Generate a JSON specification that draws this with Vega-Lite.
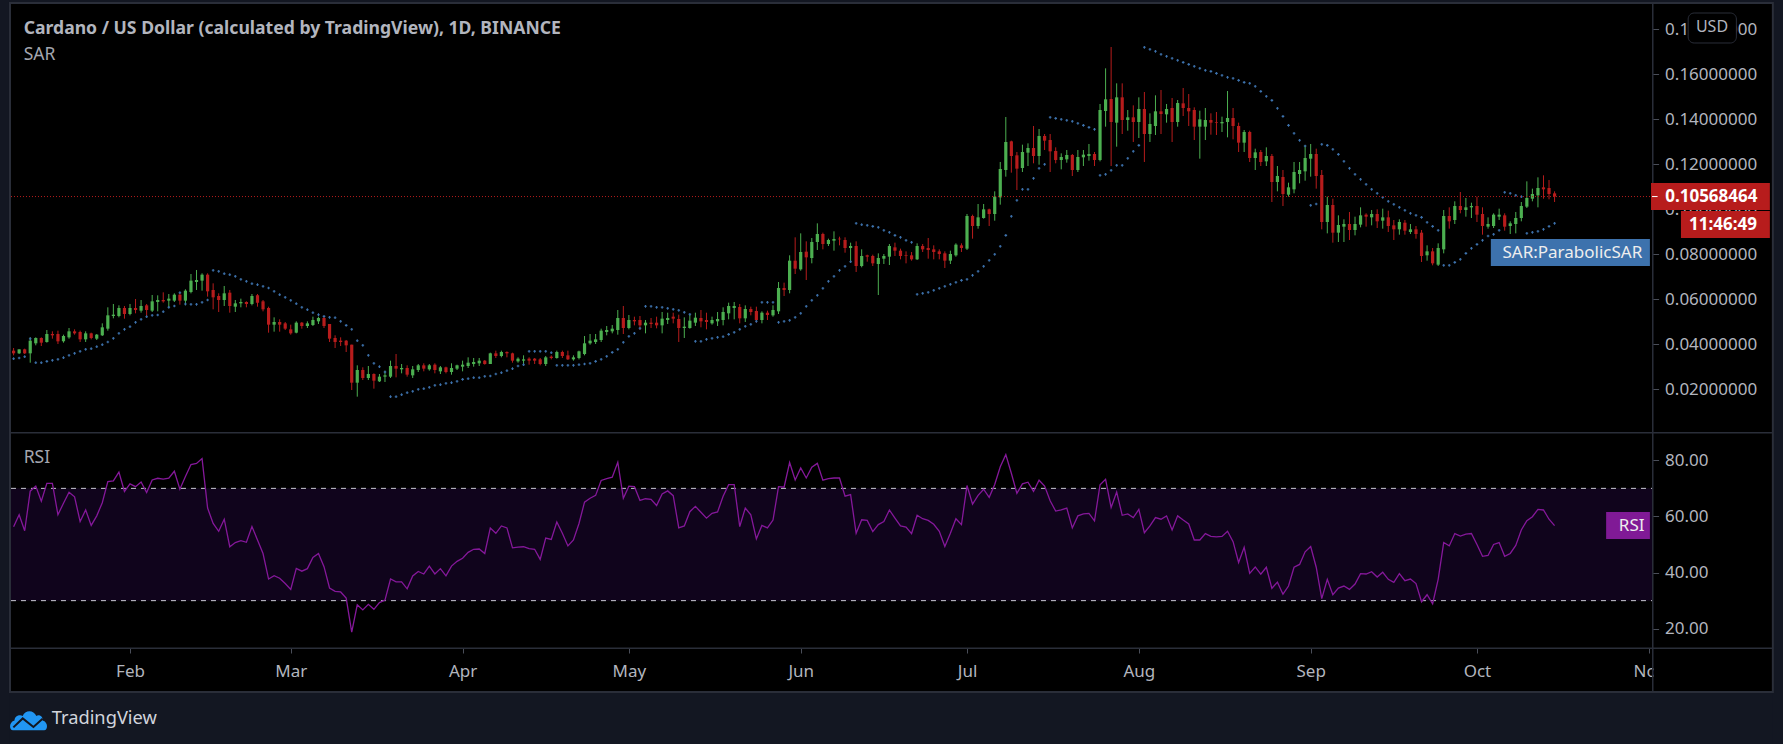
{
"$schema":"https://vega.github.io/schema/vega-lite/v6.json",
"width":1783,"height":744,"padding":0,"autosize":{"type":"none"},
"background":"#000000",
"config":{"view":{"stroke":null},"axis":{"grid":false,"domain":false,"title":null,"labelFont":"Noto Sans","labelFontSize":17,"labelColor":"#b2b5be","tickColor":"#4a4e59","labelOverlap":false,"labelFlush":false,"labelBound":false},"text":{"font":"Noto Sans"}},
"datasets":{
"rows":[
{"d":"2020-01-11","o":0.03719,"h":0.03837,"l":0.03511,"c":0.036,"s":0.03363,"r":56.3},
{"d":"2020-01-12","o":0.036,"h":0.03778,"l":0.0357,"c":0.03778,"s":0.03393,"r":60.6},
{"d":"2020-01-13","o":0.03778,"h":0.03808,"l":0.0357,"c":0.036,"s":0.03452,"r":54.9},
{"d":"2020-01-14","o":0.036,"h":0.04311,"l":0.03185,"c":0.04163,"s":0.04252,"r":69},
{"d":"2020-01-15","o":0.04045,"h":0.04311,"l":0.03956,"c":0.04282,"s":0.03185,"r":70.8},
{"d":"2020-01-16","o":0.04282,"h":0.04311,"l":0.03926,"c":0.04074,"s":0.03185,"r":65.4},
{"d":"2020-01-17","o":0.04104,"h":0.04637,"l":0.04074,"c":0.04459,"s":0.03244,"r":71.8},
{"d":"2020-01-18","o":0.04459,"h":0.04578,"l":0.04252,"c":0.044,"s":0.03289,"r":71.8},
{"d":"2020-01-19","o":0.04459,"h":0.04608,"l":0.04015,"c":0.04133,"s":0.03333,"r":60.6},
{"d":"2020-01-20","o":0.04133,"h":0.0443,"l":0.04074,"c":0.0437,"s":0.03407,"r":64.7},
{"d":"2020-01-21","o":0.04311,"h":0.04726,"l":0.04252,"c":0.04578,"s":0.03511,"r":68.6},
{"d":"2020-01-22","o":0.04578,"h":0.04667,"l":0.0443,"c":0.04489,"s":0.036,"r":67},
{"d":"2020-01-23","o":0.04548,"h":0.04608,"l":0.04104,"c":0.04222,"s":0.03689,"r":58.2},
{"d":"2020-01-24","o":0.04222,"h":0.04578,"l":0.04104,"c":0.04489,"s":0.03778,"r":62.3},
{"d":"2020-01-25","o":0.04489,"h":0.04519,"l":0.04222,"c":0.04282,"s":0.03808,"r":56.8},
{"d":"2020-01-26","o":0.04252,"h":0.04459,"l":0.04193,"c":0.0443,"s":0.03896,"r":60.2},
{"d":"2020-01-27","o":0.044,"h":0.04933,"l":0.0437,"c":0.04756,"s":0.03985,"r":64.9},
{"d":"2020-01-28","o":0.04696,"h":0.05645,"l":0.04608,"c":0.05289,"s":0.04104,"r":72.4},
{"d":"2020-01-29","o":0.05259,"h":0.05793,"l":0.05156,"c":0.05319,"s":0.04267,"r":72.7},
{"d":"2020-01-30","o":0.05259,"h":0.05733,"l":0.052,"c":0.05615,"s":0.04489,"r":75.8},
{"d":"2020-01-31","o":0.05615,"h":0.05704,"l":0.05141,"c":0.05348,"s":0.04667,"r":68.9},
{"d":"2020-02-01","o":0.05348,"h":0.05793,"l":0.05289,"c":0.05615,"s":0.04785,"r":71.6},
{"d":"2020-02-02","o":0.05615,"h":0.06015,"l":0.05378,"c":0.05526,"s":0.04978,"r":70.6},
{"d":"2020-02-03","o":0.05496,"h":0.0597,"l":0.05407,"c":0.05704,"s":0.05111,"r":72.3},
{"d":"2020-02-04","o":0.05733,"h":0.05793,"l":0.05259,"c":0.05526,"s":0.0523,"r":68.5},
{"d":"2020-02-05","o":0.05496,"h":0.06193,"l":0.05437,"c":0.05911,"s":0.05289,"r":73},
{"d":"2020-02-06","o":0.05882,"h":0.06178,"l":0.05467,"c":0.0597,"s":0.05304,"r":73.6},
{"d":"2020-02-07","o":0.0597,"h":0.06311,"l":0.05852,"c":0.05911,"s":0.05452,"r":73.3},
{"d":"2020-02-08","o":0.05941,"h":0.06237,"l":0.05615,"c":0.0603,"s":0.05645,"r":73.6},
{"d":"2020-02-09","o":0.05941,"h":0.06267,"l":0.05882,"c":0.06207,"s":0.05704,"r":76.1},
{"d":"2020-02-10","o":0.06207,"h":0.06296,"l":0.05763,"c":0.05941,"s":0.06296,"r":69.7},
{"d":"2020-02-11","o":0.05941,"h":0.06445,"l":0.05733,"c":0.06385,"s":0.05793,"r":74.2},
{"d":"2020-02-12","o":0.06326,"h":0.07126,"l":0.06267,"c":0.0683,"s":0.05778,"r":78.5},
{"d":"2020-02-13","o":0.0677,"h":0.07304,"l":0.06415,"c":0.06859,"s":0.05778,"r":78.9},
{"d":"2020-02-14","o":0.0683,"h":0.07156,"l":0.06385,"c":0.07096,"s":0.05867,"r":80.6},
{"d":"2020-02-15","o":0.07096,"h":0.07156,"l":0.06119,"c":0.06356,"s":0.0597,"r":63},
{"d":"2020-02-16","o":0.06415,"h":0.06711,"l":0.05556,"c":0.06089,"s":0.07289,"r":57.5},
{"d":"2020-02-17","o":0.06148,"h":0.06267,"l":0.05437,"c":0.0597,"s":0.07245,"r":54.7},
{"d":"2020-02-18","o":0.0597,"h":0.06593,"l":0.05704,"c":0.06267,"s":0.07141,"r":59},
{"d":"2020-02-19","o":0.06296,"h":0.06415,"l":0.05407,"c":0.05704,"s":0.07096,"r":49.2},
{"d":"2020-02-20","o":0.05674,"h":0.0597,"l":0.05437,"c":0.05822,"s":0.07022,"r":50.7},
{"d":"2020-02-21","o":0.05822,"h":0.0603,"l":0.05645,"c":0.05882,"s":0.06889,"r":51.4},
{"d":"2020-02-22","o":0.05882,"h":0.05911,"l":0.05645,"c":0.05793,"s":0.068,"r":50.8},
{"d":"2020-02-23","o":0.05793,"h":0.06237,"l":0.05733,"c":0.06148,"s":0.06696,"r":56.4},
{"d":"2020-02-24","o":0.06178,"h":0.06237,"l":0.05674,"c":0.05852,"s":0.06652,"r":51.6},
{"d":"2020-02-25","o":0.05911,"h":0.0597,"l":0.05467,"c":0.05556,"s":0.06578,"r":46.8},
{"d":"2020-02-26","o":0.05615,"h":0.05674,"l":0.04519,"c":0.04874,"s":0.06504,"r":37.7},
{"d":"2020-02-27","o":0.04874,"h":0.052,"l":0.04563,"c":0.04993,"s":0.06356,"r":38.9},
{"d":"2020-02-28","o":0.04993,"h":0.05111,"l":0.04563,"c":0.04874,"s":0.06207,"r":38},
{"d":"2020-02-29","o":0.04933,"h":0.04993,"l":0.04637,"c":0.04696,"s":0.06089,"r":36.1},
{"d":"2020-03-01","o":0.04667,"h":0.04874,"l":0.0443,"c":0.04489,"s":0.05956,"r":34},
{"d":"2020-03-02","o":0.04519,"h":0.05022,"l":0.04489,"c":0.04963,"s":0.05807,"r":41.5},
{"d":"2020-03-03","o":0.04963,"h":0.04993,"l":0.04696,"c":0.04815,"s":0.05645,"r":40.5},
{"d":"2020-03-04","o":0.04815,"h":0.05022,"l":0.04726,"c":0.04933,"s":0.05541,"r":41.4},
{"d":"2020-03-05","o":0.04859,"h":0.0523,"l":0.04815,"c":0.05081,"s":0.05407,"r":45.4},
{"d":"2020-03-06","o":0.05022,"h":0.0523,"l":0.04904,"c":0.0517,"s":0.05319,"r":46.8},
{"d":"2020-03-07","o":0.0517,"h":0.0523,"l":0.04726,"c":0.04815,"s":0.05244,"r":42.1},
{"d":"2020-03-08","o":0.04904,"h":0.04904,"l":0.04104,"c":0.04252,"s":0.052,"r":34.5},
{"d":"2020-03-09","o":0.04282,"h":0.044,"l":0.03837,"c":0.04104,"s":0.05185,"r":33.3},
{"d":"2020-03-10","o":0.04163,"h":0.04311,"l":0.03926,"c":0.04104,"s":0.05022,"r":33.1},
{"d":"2020-03-11","o":0.04163,"h":0.04193,"l":0.03659,"c":0.03956,"s":0.04844,"r":30.9},
{"d":"2020-03-12","o":0.03985,"h":0.03985,"l":0.0197,"c":0.02296,"s":0.04667,"r":18.8},
{"d":"2020-03-13","o":0.02296,"h":0.03067,"l":0.01674,"c":0.02859,"s":0.04163,"r":28.5},
{"d":"2020-03-14","o":0.02859,"h":0.02978,"l":0.02415,"c":0.02504,"s":0.03956,"r":26.7},
{"d":"2020-03-15","o":0.02504,"h":0.03037,"l":0.02415,"c":0.02681,"s":0.03511,"r":28.7},
{"d":"2020-03-16","o":0.02681,"h":0.02711,"l":0.0203,"c":0.02385,"s":0.03156,"r":26.9},
{"d":"2020-03-17","o":0.02356,"h":0.02681,"l":0.02326,"c":0.02563,"s":0.03007,"r":29.3},
{"d":"2020-03-18","o":0.02563,"h":0.0283,"l":0.02326,"c":0.02622,"s":0.0277,"r":30.2},
{"d":"2020-03-19","o":0.02563,"h":0.03274,"l":0.02504,"c":0.03037,"s":0.01674,"r":37.7},
{"d":"2020-03-20","o":0.03037,"h":0.0357,"l":0.02533,"c":0.02919,"s":0.01674,"r":36.7},
{"d":"2020-03-21","o":0.02889,"h":0.03126,"l":0.02711,"c":0.02948,"s":0.01763,"r":36.7},
{"d":"2020-03-22","o":0.02948,"h":0.03067,"l":0.02563,"c":0.02652,"s":0.01852,"r":34.2},
{"d":"2020-03-23","o":0.02622,"h":0.03037,"l":0.02504,"c":0.02889,"s":0.01911,"r":38.8},
{"d":"2020-03-24","o":0.02859,"h":0.03126,"l":0.0277,"c":0.03067,"s":0.02,"r":40.4},
{"d":"2020-03-25","o":0.03067,"h":0.03156,"l":0.028,"c":0.02919,"s":0.0203,"r":39.5},
{"d":"2020-03-26","o":0.02889,"h":0.03126,"l":0.0283,"c":0.03067,"s":0.02089,"r":42.3},
{"d":"2020-03-27","o":0.03096,"h":0.03156,"l":0.02711,"c":0.02859,"s":0.02178,"r":39.5},
{"d":"2020-03-28","o":0.028,"h":0.03037,"l":0.02681,"c":0.02978,"s":0.02207,"r":41.4},
{"d":"2020-03-29","o":0.02978,"h":0.03007,"l":0.02711,"c":0.0277,"s":0.02267,"r":38.8},
{"d":"2020-03-30","o":0.0277,"h":0.03156,"l":0.02652,"c":0.02948,"s":0.02296,"r":42.3},
{"d":"2020-03-31","o":0.02919,"h":0.03096,"l":0.02859,"c":0.03067,"s":0.02356,"r":44},
{"d":"2020-04-01","o":0.03007,"h":0.03274,"l":0.028,"c":0.03096,"s":0.02444,"r":45.1},
{"d":"2020-04-02","o":0.03037,"h":0.03422,"l":0.02948,"c":0.03185,"s":0.02474,"r":47.2},
{"d":"2020-04-03","o":0.03126,"h":0.03393,"l":0.03007,"c":0.03215,"s":0.02519,"r":48.3},
{"d":"2020-04-04","o":0.03156,"h":0.03393,"l":0.03037,"c":0.03274,"s":0.02519,"r":48.4},
{"d":"2020-04-05","o":0.03274,"h":0.03304,"l":0.03096,"c":0.03126,"s":0.02578,"r":46.8},
{"d":"2020-04-06","o":0.03126,"h":0.0363,"l":0.03126,"c":0.036,"s":0.02593,"r":55.9},
{"d":"2020-04-07","o":0.036,"h":0.03719,"l":0.03393,"c":0.03482,"s":0.02681,"r":54},
{"d":"2020-04-08","o":0.03482,"h":0.03719,"l":0.03422,"c":0.03659,"s":0.02741,"r":56.6},
{"d":"2020-04-09","o":0.03659,"h":0.03689,"l":0.03422,"c":0.036,"s":0.0283,"r":55.9},
{"d":"2020-04-10","o":0.036,"h":0.0363,"l":0.03185,"c":0.03274,"s":0.02919,"r":48.8},
{"d":"2020-04-11","o":0.03244,"h":0.03422,"l":0.03185,"c":0.03363,"s":0.03037,"r":49.1},
{"d":"2020-04-12","o":0.03274,"h":0.03511,"l":0.03096,"c":0.03333,"s":0.03096,"r":49.2},
{"d":"2020-04-13","o":0.03363,"h":0.03422,"l":0.03096,"c":0.03274,"s":0.03689,"r":48.5},
{"d":"2020-04-14","o":0.03363,"h":0.03393,"l":0.03126,"c":0.03274,"s":0.03689,"r":48.3},
{"d":"2020-04-15","o":0.03333,"h":0.03393,"l":0.03067,"c":0.03126,"s":0.03689,"r":44.7},
{"d":"2020-04-16","o":0.03126,"h":0.03482,"l":0.03037,"c":0.03422,"s":0.03689,"r":52.3},
{"d":"2020-04-17","o":0.03452,"h":0.03511,"l":0.03333,"c":0.03393,"s":0.0363,"r":51.8},
{"d":"2020-04-18","o":0.03393,"h":0.03719,"l":0.03363,"c":0.03659,"s":0.03067,"r":58},
{"d":"2020-04-19","o":0.03659,"h":0.03719,"l":0.03393,"c":0.03482,"s":0.03067,"r":54},
{"d":"2020-04-20","o":0.03511,"h":0.03719,"l":0.03304,"c":0.03333,"s":0.03067,"r":49.5},
{"d":"2020-04-21","o":0.03333,"h":0.03511,"l":0.03274,"c":0.03422,"s":0.03067,"r":51.6},
{"d":"2020-04-22","o":0.03393,"h":0.03719,"l":0.03333,"c":0.03689,"s":0.03096,"r":57.5},
{"d":"2020-04-23","o":0.0357,"h":0.0437,"l":0.03511,"c":0.04045,"s":0.03126,"r":65.1},
{"d":"2020-04-24","o":0.04045,"h":0.04459,"l":0.03985,"c":0.04163,"s":0.03156,"r":66.5},
{"d":"2020-04-25","o":0.04104,"h":0.04459,"l":0.04015,"c":0.04222,"s":0.03244,"r":67.5},
{"d":"2020-04-26","o":0.04193,"h":0.04696,"l":0.04104,"c":0.04607,"s":0.03333,"r":72.8},
{"d":"2020-04-27","o":0.04548,"h":0.04815,"l":0.044,"c":0.04637,"s":0.03467,"r":73.5},
{"d":"2020-04-28","o":0.04578,"h":0.04859,"l":0.04489,"c":0.04696,"s":0.03644,"r":74},
{"d":"2020-04-29","o":0.04637,"h":0.05526,"l":0.0443,"c":0.0517,"s":0.03778,"r":79.3},
{"d":"2020-04-30","o":0.0517,"h":0.05704,"l":0.04459,"c":0.04726,"s":0.04089,"r":66.5},
{"d":"2020-05-01","o":0.04726,"h":0.05304,"l":0.04667,"c":0.05081,"s":0.04356,"r":70.8},
{"d":"2020-05-02","o":0.05081,"h":0.0523,"l":0.04844,"c":0.05022,"s":0.04489,"r":70.6},
{"d":"2020-05-03","o":0.05081,"h":0.05259,"l":0.04637,"c":0.04844,"s":0.04711,"r":65.7},
{"d":"2020-05-04","o":0.04844,"h":0.05081,"l":0.04489,"c":0.04963,"s":0.05689,"r":66.3},
{"d":"2020-05-05","o":0.04963,"h":0.0517,"l":0.04726,"c":0.04904,"s":0.05689,"r":66.1},
{"d":"2020-05-06","o":0.04963,"h":0.0523,"l":0.04711,"c":0.04844,"s":0.05645,"r":63.9},
{"d":"2020-05-07","o":0.04844,"h":0.05437,"l":0.04489,"c":0.05141,"s":0.05645,"r":68},
{"d":"2020-05-08","o":0.05081,"h":0.05407,"l":0.04904,"c":0.0517,"s":0.056,"r":69.1},
{"d":"2020-05-09","o":0.0523,"h":0.05407,"l":0.04933,"c":0.05141,"s":0.05556,"r":67.4},
{"d":"2020-05-10","o":0.05126,"h":0.05319,"l":0.04104,"c":0.04726,"s":0.05511,"r":55.9},
{"d":"2020-05-11","o":0.04726,"h":0.052,"l":0.04282,"c":0.04785,"s":0.05422,"r":56.6},
{"d":"2020-05-12","o":0.04726,"h":0.05304,"l":0.04696,"c":0.05052,"s":0.05333,"r":61.7},
{"d":"2020-05-13","o":0.04963,"h":0.05407,"l":0.04815,"c":0.05185,"s":0.04133,"r":63.6},
{"d":"2020-05-14","o":0.0517,"h":0.05526,"l":0.04756,"c":0.05022,"s":0.04133,"r":61.5},
{"d":"2020-05-15","o":0.05081,"h":0.05407,"l":0.04667,"c":0.04993,"s":0.04222,"r":59.4},
{"d":"2020-05-16","o":0.04933,"h":0.0523,"l":0.04874,"c":0.05081,"s":0.04267,"r":61.1},
{"d":"2020-05-17","o":0.05022,"h":0.05437,"l":0.04815,"c":0.05126,"s":0.04311,"r":61.6},
{"d":"2020-05-18","o":0.05081,"h":0.05645,"l":0.04844,"c":0.05437,"s":0.04341,"r":67.2},
{"d":"2020-05-19","o":0.05378,"h":0.05852,"l":0.05111,"c":0.05704,"s":0.04444,"r":71.3},
{"d":"2020-05-20","o":0.05615,"h":0.05882,"l":0.05111,"c":0.05704,"s":0.04533,"r":71.3},
{"d":"2020-05-21","o":0.05659,"h":0.05793,"l":0.04933,"c":0.05156,"s":0.04667,"r":56.4},
{"d":"2020-05-22","o":0.05156,"h":0.05733,"l":0.04993,"c":0.0557,"s":0.048,"r":63},
{"d":"2020-05-23","o":0.0557,"h":0.05674,"l":0.05289,"c":0.05437,"s":0.04889,"r":60.6},
{"d":"2020-05-24","o":0.05481,"h":0.05674,"l":0.04963,"c":0.05081,"s":0.05022,"r":52},
{"d":"2020-05-25","o":0.05081,"h":0.05467,"l":0.04933,"c":0.05407,"s":0.05867,"r":56.8},
{"d":"2020-05-26","o":0.05407,"h":0.05496,"l":0.05081,"c":0.05304,"s":0.05867,"r":55.9},
{"d":"2020-05-27","o":0.05289,"h":0.05733,"l":0.0523,"c":0.05526,"s":0.05867,"r":58.7},
{"d":"2020-05-28","o":0.05467,"h":0.0677,"l":0.05348,"c":0.06504,"s":0.04978,"r":70.6},
{"d":"2020-05-29","o":0.06504,"h":0.06741,"l":0.06148,"c":0.06415,"s":0.05022,"r":70.4},
{"d":"2020-05-30","o":0.06415,"h":0.07956,"l":0.06267,"c":0.07719,"s":0.05067,"r":79.2},
{"d":"2020-05-31","o":0.07719,"h":0.08756,"l":0.07126,"c":0.07363,"s":0.052,"r":73},
{"d":"2020-06-01","o":0.07333,"h":0.08933,"l":0.07274,"c":0.08104,"s":0.05378,"r":77.3},
{"d":"2020-06-02","o":0.08119,"h":0.08578,"l":0.06859,"c":0.07867,"s":0.05689,"r":73.7},
{"d":"2020-06-03","o":0.07837,"h":0.08726,"l":0.076,"c":0.08548,"s":0.05956,"r":77.5},
{"d":"2020-06-04","o":0.08548,"h":0.09378,"l":0.08193,"c":0.08904,"s":0.06178,"r":78.9},
{"d":"2020-06-05","o":0.08904,"h":0.08963,"l":0.08222,"c":0.08459,"s":0.06489,"r":72.9},
{"d":"2020-06-06","o":0.08459,"h":0.08696,"l":0.0837,"c":0.08637,"s":0.068,"r":73.5},
{"d":"2020-06-07","o":0.08607,"h":0.09022,"l":0.08163,"c":0.08681,"s":0.07022,"r":73.7},
{"d":"2020-06-08","o":0.08696,"h":0.08785,"l":0.084,"c":0.08667,"s":0.07289,"r":73.7},
{"d":"2020-06-09","o":0.08637,"h":0.08756,"l":0.08074,"c":0.08281,"s":0.07467,"r":67.2},
{"d":"2020-06-10","o":0.08281,"h":0.08519,"l":0.07689,"c":0.0837,"s":0.07674,"r":67.8},
{"d":"2020-06-11","o":0.0837,"h":0.08578,"l":0.07215,"c":0.07481,"s":0.09378,"r":54},
{"d":"2020-06-12","o":0.07481,"h":0.08222,"l":0.07422,"c":0.07926,"s":0.09319,"r":58.8},
{"d":"2020-06-13","o":0.07956,"h":0.07985,"l":0.07674,"c":0.07896,"s":0.09289,"r":58.6},
{"d":"2020-06-14","o":0.07926,"h":0.07985,"l":0.07481,"c":0.076,"s":0.09244,"r":54.6},
{"d":"2020-06-15","o":0.0757,"h":0.08044,"l":0.06193,"c":0.07837,"s":0.092,"r":57.1},
{"d":"2020-06-16","o":0.07807,"h":0.08015,"l":0.0757,"c":0.07926,"s":0.09067,"r":58.2},
{"d":"2020-06-17","o":0.07896,"h":0.08459,"l":0.07526,"c":0.0837,"s":0.08978,"r":62.3},
{"d":"2020-06-18","o":0.08311,"h":0.08519,"l":0.07926,"c":0.08163,"s":0.08844,"r":59.4},
{"d":"2020-06-19","o":0.08163,"h":0.08252,"l":0.07778,"c":0.07926,"s":0.08756,"r":56.6},
{"d":"2020-06-20","o":0.07956,"h":0.08133,"l":0.076,"c":0.07926,"s":0.08622,"r":56.2},
{"d":"2020-06-21","o":0.07956,"h":0.08104,"l":0.07718,"c":0.07778,"s":0.08533,"r":53.9},
{"d":"2020-06-22","o":0.07778,"h":0.08489,"l":0.07748,"c":0.0837,"s":0.06222,"r":60.4},
{"d":"2020-06-23","o":0.0837,"h":0.08459,"l":0.08104,"c":0.08222,"s":0.06267,"r":59.2},
{"d":"2020-06-24","o":0.08281,"h":0.08726,"l":0.07807,"c":0.08193,"s":0.06311,"r":58.6},
{"d":"2020-06-25","o":0.08222,"h":0.084,"l":0.07778,"c":0.08104,"s":0.064,"r":57.2},
{"d":"2020-06-26","o":0.08133,"h":0.08222,"l":0.07778,"c":0.08015,"s":0.06489,"r":54.7},
{"d":"2020-06-27","o":0.08044,"h":0.08133,"l":0.07393,"c":0.07719,"s":0.06578,"r":49.3},
{"d":"2020-06-28","o":0.07719,"h":0.08163,"l":0.0757,"c":0.08015,"s":0.06667,"r":54},
{"d":"2020-06-29","o":0.07955,"h":0.08489,"l":0.07896,"c":0.0843,"s":0.06756,"r":59.2},
{"d":"2020-06-30","o":0.084,"h":0.08489,"l":0.08104,"c":0.08281,"s":0.06844,"r":57.1},
{"d":"2020-07-01","o":0.08252,"h":0.09793,"l":0.08193,"c":0.09704,"s":0.06889,"r":71},
{"d":"2020-07-02","o":0.09704,"h":0.09763,"l":0.08696,"c":0.09259,"s":0.07067,"r":64.4},
{"d":"2020-07-03","o":0.09259,"h":0.10237,"l":0.09141,"c":0.09644,"s":0.07245,"r":67.5},
{"d":"2020-07-04","o":0.09615,"h":0.10237,"l":0.09585,"c":0.1,"s":0.07467,"r":69.7},
{"d":"2020-07-05","o":0.1,"h":0.1003,"l":0.09259,"c":0.09793,"s":0.07733,"r":66.8},
{"d":"2020-07-06","o":0.09793,"h":0.108,"l":0.09496,"c":0.10563,"s":0.08,"r":71.4},
{"d":"2020-07-07","o":0.10533,"h":0.12104,"l":0.10208,"c":0.11793,"s":0.08356,"r":77.7},
{"d":"2020-07-08","o":0.11748,"h":0.14104,"l":0.11452,"c":0.12993,"s":0.08844,"r":82},
{"d":"2020-07-09","o":0.13022,"h":0.13052,"l":0.1163,"c":0.1237,"s":0.09689,"r":75.4},
{"d":"2020-07-10","o":0.124,"h":0.12548,"l":0.10859,"c":0.11808,"s":0.104,"r":68.2},
{"d":"2020-07-11","o":0.11837,"h":0.12874,"l":0.11659,"c":0.12548,"s":0.10889,"r":71.6},
{"d":"2020-07-12","o":0.12519,"h":0.12933,"l":0.11926,"c":0.12726,"s":0.10889,"r":72.2},
{"d":"2020-07-13","o":0.12726,"h":0.13704,"l":0.12045,"c":0.1237,"s":0.11378,"r":68.9},
{"d":"2020-07-14","o":0.1237,"h":0.1357,"l":0.11985,"c":0.13259,"s":0.11822,"r":72.9},
{"d":"2020-07-15","o":0.13259,"h":0.13348,"l":0.12637,"c":0.13052,"s":0.12,"r":70.8},
{"d":"2020-07-16","o":0.13081,"h":0.13348,"l":0.11659,"c":0.12578,"s":0.14089,"r":65.6},
{"d":"2020-07-17","o":0.12593,"h":0.12756,"l":0.12045,"c":0.12193,"s":0.14044,"r":61.9},
{"d":"2020-07-18","o":0.12193,"h":0.12489,"l":0.11778,"c":0.12326,"s":0.14,"r":62.3},
{"d":"2020-07-19","o":0.12222,"h":0.12637,"l":0.12074,"c":0.12415,"s":0.13956,"r":63},
{"d":"2020-07-20","o":0.12415,"h":0.12459,"l":0.11482,"c":0.11748,"s":0.13911,"r":55.9},
{"d":"2020-07-21","o":0.11748,"h":0.12637,"l":0.11659,"c":0.12326,"s":0.13822,"r":60.2},
{"d":"2020-07-22","o":0.12311,"h":0.12637,"l":0.11926,"c":0.1243,"s":0.13733,"r":60.9},
{"d":"2020-07-23","o":0.1237,"h":0.12904,"l":0.12163,"c":0.12459,"s":0.13644,"r":61.1},
{"d":"2020-07-24","o":0.12459,"h":0.12548,"l":0.11926,"c":0.12193,"s":0.13556,"r":58.4},
{"d":"2020-07-25","o":0.12193,"h":0.14682,"l":0.12133,"c":0.14415,"s":0.11511,"r":71.3},
{"d":"2020-07-26","o":0.1437,"h":0.16267,"l":0.13674,"c":0.14889,"s":0.11556,"r":73.2},
{"d":"2020-07-27","o":0.14904,"h":0.17215,"l":0.11926,"c":0.13882,"s":0.11733,"r":63.2},
{"d":"2020-07-28","o":0.13852,"h":0.156,"l":0.12785,"c":0.14978,"s":0.11956,"r":68.7},
{"d":"2020-07-29","o":0.14978,"h":0.156,"l":0.13348,"c":0.1397,"s":0.11956,"r":60.4},
{"d":"2020-07-30","o":0.1397,"h":0.14415,"l":0.13496,"c":0.14089,"s":0.12267,"r":60.9},
{"d":"2020-07-31","o":0.14089,"h":0.14622,"l":0.12993,"c":0.13882,"s":0.12578,"r":59.6},
{"d":"2020-08-01","o":0.13882,"h":0.14978,"l":0.1317,"c":0.14459,"s":0.12844,"r":62.5},
{"d":"2020-08-02","o":0.14459,"h":0.15215,"l":0.12104,"c":0.13348,"s":0.172,"r":54.2},
{"d":"2020-08-03","o":0.13348,"h":0.14267,"l":0.12993,"c":0.13793,"s":0.17111,"r":56.6},
{"d":"2020-08-04","o":0.13704,"h":0.15067,"l":0.13304,"c":0.14356,"s":0.17022,"r":59.6},
{"d":"2020-08-05","o":0.14356,"h":0.15304,"l":0.13348,"c":0.14237,"s":0.16889,"r":59},
{"d":"2020-08-06","o":0.14222,"h":0.14682,"l":0.13852,"c":0.14459,"s":0.168,"r":60.2},
{"d":"2020-08-07","o":0.14504,"h":0.14948,"l":0.12993,"c":0.13882,"s":0.16711,"r":55.2},
{"d":"2020-08-08","o":0.13882,"h":0.14859,"l":0.13674,"c":0.14726,"s":0.16622,"r":60.2},
{"d":"2020-08-09","o":0.14711,"h":0.15393,"l":0.14148,"c":0.14504,"s":0.16533,"r":58.7},
{"d":"2020-08-10","o":0.14504,"h":0.15126,"l":0.13704,"c":0.14356,"s":0.16444,"r":57.3},
{"d":"2020-08-11","o":0.14415,"h":0.14533,"l":0.13081,"c":0.13674,"s":0.16356,"r":51.6},
{"d":"2020-08-12","o":0.13674,"h":0.14385,"l":0.12252,"c":0.14,"s":0.16267,"r":51.6},
{"d":"2020-08-13","o":0.13674,"h":0.14504,"l":0.13081,"c":0.1397,"s":0.16178,"r":53.9},
{"d":"2020-08-14","o":0.1397,"h":0.14267,"l":0.13319,"c":0.13852,"s":0.16133,"r":52.9},
{"d":"2020-08-15","o":0.13882,"h":0.14326,"l":0.13304,"c":0.13852,"s":0.16044,"r":52.7},
{"d":"2020-08-16","o":0.13822,"h":0.14119,"l":0.13437,"c":0.13882,"s":0.15956,"r":52.9},
{"d":"2020-08-17","o":0.13882,"h":0.15259,"l":0.132,"c":0.14059,"s":0.15867,"r":54.7},
{"d":"2020-08-18","o":0.14059,"h":0.14504,"l":0.13111,"c":0.13704,"s":0.15822,"r":51},
{"d":"2020-08-19","o":0.13704,"h":0.13852,"l":0.12548,"c":0.12963,"s":0.15733,"r":43.6},
{"d":"2020-08-20","o":0.12963,"h":0.13526,"l":0.12548,"c":0.13437,"s":0.15644,"r":49},
{"d":"2020-08-21","o":0.13437,"h":0.13496,"l":0.12104,"c":0.12281,"s":0.156,"r":39.7},
{"d":"2020-08-22","o":0.12281,"h":0.12696,"l":0.11748,"c":0.12533,"s":0.15467,"r":42},
{"d":"2020-08-23","o":0.12548,"h":0.12637,"l":0.11926,"c":0.12104,"s":0.15244,"r":39.4},
{"d":"2020-08-24","o":0.12133,"h":0.12756,"l":0.11926,"c":0.1237,"s":0.15022,"r":41.9},
{"d":"2020-08-25","o":0.1237,"h":0.12459,"l":0.10326,"c":0.11215,"s":0.14844,"r":34.4},
{"d":"2020-08-26","o":0.11215,"h":0.11926,"l":0.108,"c":0.11482,"s":0.14489,"r":36.6},
{"d":"2020-08-27","o":0.11437,"h":0.11748,"l":0.10148,"c":0.10682,"s":0.14133,"r":32.3},
{"d":"2020-08-28","o":0.10652,"h":0.11185,"l":0.10563,"c":0.10978,"s":0.13733,"r":35.2},
{"d":"2020-08-29","o":0.10889,"h":0.12104,"l":0.10711,"c":0.11659,"s":0.13378,"r":41.9},
{"d":"2020-08-30","o":0.1157,"h":0.12104,"l":0.11156,"c":0.11748,"s":0.13067,"r":42.9},
{"d":"2020-08-31","o":0.11689,"h":0.12844,"l":0.11274,"c":0.12281,"s":0.12815,"r":47.4},
{"d":"2020-09-01","o":0.12252,"h":0.12904,"l":0.11452,"c":0.12459,"s":0.10178,"r":49.3},
{"d":"2020-09-02","o":0.12459,"h":0.12696,"l":0.10919,"c":0.11482,"s":0.10237,"r":41.9},
{"d":"2020-09-03","o":0.11526,"h":0.11748,"l":0.09111,"c":0.09437,"s":0.12889,"r":30.7},
{"d":"2020-09-04","o":0.09437,"h":0.10563,"l":0.08933,"c":0.10193,"s":0.12844,"r":37.6},
{"d":"2020-09-05","o":0.10193,"h":0.10474,"l":0.08519,"c":0.08963,"s":0.12667,"r":32.1},
{"d":"2020-09-06","o":0.08963,"h":0.09733,"l":0.08548,"c":0.09304,"s":0.12444,"r":34.5},
{"d":"2020-09-07","o":0.0923,"h":0.09556,"l":0.08548,"c":0.09348,"s":0.12133,"r":35.2},
{"d":"2020-09-08","o":0.09348,"h":0.09882,"l":0.08637,"c":0.09082,"s":0.11822,"r":34},
{"d":"2020-09-09","o":0.09082,"h":0.09674,"l":0.08844,"c":0.09348,"s":0.11556,"r":35.9},
{"d":"2020-09-10","o":0.09319,"h":0.10089,"l":0.092,"c":0.09733,"s":0.11333,"r":39.6},
{"d":"2020-09-11","o":0.09763,"h":0.09822,"l":0.0923,"c":0.09674,"s":0.11111,"r":39.5},
{"d":"2020-09-12","o":0.09644,"h":0.0997,"l":0.09289,"c":0.09793,"s":0.10889,"r":40.3},
{"d":"2020-09-13","o":0.09793,"h":0.1,"l":0.0917,"c":0.09467,"s":0.10711,"r":38.4},
{"d":"2020-09-14","o":0.09496,"h":0.1003,"l":0.09141,"c":0.09644,"s":0.10533,"r":40.1},
{"d":"2020-09-15","o":0.09644,"h":0.09941,"l":0.08993,"c":0.09259,"s":0.10356,"r":37.6},
{"d":"2020-09-16","o":0.09289,"h":0.09526,"l":0.08637,"c":0.09111,"s":0.10222,"r":36.5},
{"d":"2020-09-17","o":0.09111,"h":0.09556,"l":0.08874,"c":0.09437,"s":0.10089,"r":39.6},
{"d":"2020-09-18","o":0.09407,"h":0.09526,"l":0.08874,"c":0.09052,"s":0.09956,"r":37.1},
{"d":"2020-09-19","o":0.08993,"h":0.09348,"l":0.08904,"c":0.09111,"s":0.09822,"r":37.7},
{"d":"2020-09-20","o":0.09111,"h":0.09259,"l":0.08696,"c":0.08904,"s":0.09733,"r":36.1},
{"d":"2020-09-21","o":0.08963,"h":0.09082,"l":0.07659,"c":0.07926,"s":0.09644,"r":29.6},
{"d":"2020-09-22","o":0.07956,"h":0.084,"l":0.07719,"c":0.08133,"s":0.09422,"r":32.1},
{"d":"2020-09-23","o":0.08133,"h":0.08281,"l":0.07511,"c":0.076,"s":0.09244,"r":28.9},
{"d":"2020-09-24","o":0.07541,"h":0.08489,"l":0.07482,"c":0.08281,"s":0.09067,"r":37.6},
{"d":"2020-09-25","o":0.08222,"h":0.0997,"l":0.08044,"c":0.09704,"s":0.07511,"r":50.7},
{"d":"2020-09-26","o":0.09704,"h":0.10089,"l":0.09141,"c":0.09467,"s":0.07511,"r":49.5},
{"d":"2020-09-27","o":0.09526,"h":0.10356,"l":0.09348,"c":0.10148,"s":0.07644,"r":53.9},
{"d":"2020-09-28","o":0.10148,"h":0.1077,"l":0.09822,"c":0.0997,"s":0.07778,"r":53},
{"d":"2020-09-29","o":0.0997,"h":0.10504,"l":0.09674,"c":0.10089,"s":0.08044,"r":53.7},
{"d":"2020-09-30","o":0.10089,"h":0.10296,"l":0.09615,"c":0.10148,"s":0.08267,"r":53.9},
{"d":"2020-10-01","o":0.10148,"h":0.10563,"l":0.09437,"c":0.09763,"s":0.08444,"r":50},
{"d":"2020-10-02","o":0.09793,"h":0.10089,"l":0.08874,"c":0.09259,"s":0.08622,"r":45.8},
{"d":"2020-10-03","o":0.0923,"h":0.09644,"l":0.09141,"c":0.09348,"s":0.08815,"r":46.1},
{"d":"2020-10-04","o":0.09259,"h":0.09822,"l":0.0917,"c":0.09763,"s":0.08889,"r":50},
{"d":"2020-10-05","o":0.09674,"h":0.1003,"l":0.09526,"c":0.09763,"s":0.09067,"r":50.7},
{"d":"2020-10-06","o":0.09733,"h":0.09822,"l":0.09052,"c":0.0923,"s":0.10756,"r":45.8},
{"d":"2020-10-07","o":0.09259,"h":0.09467,"l":0.08904,"c":0.09378,"s":0.10711,"r":46.8},
{"d":"2020-10-08","o":0.09348,"h":0.09882,"l":0.08933,"c":0.09615,"s":0.10622,"r":49.7},
{"d":"2020-10-09","o":0.09615,"h":0.10326,"l":0.09467,"c":0.10148,"s":0.10563,"r":55.2},
{"d":"2020-10-10","o":0.10119,"h":0.11244,"l":0.10059,"c":0.10504,"s":0.08933,"r":58.5},
{"d":"2020-10-11","o":0.10474,"h":0.10919,"l":0.10356,"c":0.10682,"s":0.08978,"r":59.9},
{"d":"2020-10-12","o":0.10622,"h":0.11422,"l":0.10089,"c":0.10948,"s":0.09022,"r":62.5},
{"d":"2020-10-13","o":0.10978,"h":0.11511,"l":0.10474,"c":0.10889,"s":0.09111,"r":62.3},
{"d":"2020-10-14","o":0.10948,"h":0.11304,"l":0.10445,"c":0.10682,"s":0.09244,"r":59},
{"d":"2020-10-15","o":0.10711,"h":0.108,"l":0.10326,"c":0.10568,"s":0.09378,"r":56.7}
],
"rsiBand":[{"d":"2020-01-10T12:43:00Z","d2":"2020-11-01T14:00:00Z","top":70,"bottom":30}],
"rsiLevels":[{"d":"2020-01-10T12:43:00Z","d2":"2020-11-01T14:00:00Z","level":70},{"d":"2020-01-10T12:43:00Z","d2":"2020-11-01T14:00:00Z","level":30}],
"lastPrice":[{"d":"2020-01-10T12:43:00Z","d2":"2020-11-01T14:00:00Z","p":0.10568}],
"lastTick":[{"d":"2020-11-01T14:00:00Z","d2":"2020-11-02T14:00:00Z","p":0.10568}],
"panels":[
{"part":"outer","d":"2020-01-08T13:08:00Z","d2":"2020-11-25T05:02:00Z","p":0.19304,"p2":0.19171},
{"part":"outer","d":"2020-01-08T13:08:00Z","d2":"2020-11-25T05:02:00Z","p":-0.11452,"p2":-0.13763},
{"part":"outer","d":"2020-01-08T13:08:00Z","d2":"2020-01-10T08:24:00Z","p":0.19304,"p2":-0.13763},
{"part":"outer","d":"2020-11-23T09:07:00Z","d2":"2020-11-25T05:02:00Z","p":0.19304,"p2":-0.13763},
{"part":"cover","d":"2020-11-01T20:24:00Z","d2":"2020-11-23T00:00:00Z","p":-0.09563,"p2":-0.11385},
{"part":"line","d":"2020-01-10T08:24:00Z","d2":"2020-11-23T09:07:00Z","p":0.00104,"p2":0.00037},
{"part":"line","d":"2020-01-10T08:24:00Z","d2":"2020-11-23T09:07:00Z","p":-0.09474,"p2":-0.0954},
{"part":"line","d":"2020-11-01T13:55:00Z","d2":"2020-11-01T20:24:00Z","p":0.19171,"p2":-0.11452},
{"part":"price","d":"2020-11-01T09:36:00Z","d2":"2020-11-22T20:10:00Z","p":0.11171,"p2":0.09971},
{"part":"price","d":"2020-11-06T19:12:00Z","d2":"2020-11-22T20:10:00Z","p":0.09926,"p2":0.08726},
{"part":"sar","d":"2020-10-03T12:00:00Z","d2":"2020-11-01T04:48:00Z","p":0.08682,"p2":0.07482},
{"part":"rsi","d":"2020-10-24T07:12:00Z","d2":"2020-11-01T04:48:00Z","p":-0.03451,"p2":-0.04651}
],
"frame":[{"d":"2020-01-10T08:24:00Z","d2":"2020-11-23T09:07:00Z","p":0.19171,"p2":-0.11452}],
"usdBox":[{"d":"2020-11-08T02:24:00Z","d2":"2020-11-16T19:12:00Z","p":0.18726,"p2":0.17393}],
"headline":[{"label":"Cardano / US Dollar (calculated by TradingView), 1D, BINANCE","d":"2020-01-12T19:40:00Z","p":0.18028}],
"paneLabels":[{"label":"SAR","d":"2020-01-12T19:40:00Z","p":0.1686},{"label":"RSI","d":"2020-01-12T19:40:00Z","p":-0.01038}],
"tagLabels":[{"label":"0.10568464","d":"2020-11-03T23:00:00Z","p":0.10568},{"label":"11:46:49","d":"2020-11-08T06:00:00Z","p":0.09304}],
"softTags":[{"label":"SAR:ParabolicSAR","d":"2020-10-05T14:24:00Z","p":0.08073},{"label":"RSI","d":"2020-10-26T14:24:00Z","p":-0.0406}],
"usdLabel":[{"label":"USD","d":"2020-11-12T09:36:00Z","p":0.18104}],
"brand":[{"label":"TradingView","d":"2020-01-17T21:00:00Z","p":-0.12665}],
"logo":[{"d":"2020-01-13T16:48:00Z","p":-0.12696}]
},
"encoding":{"x":{"field":"d","type":"temporal","scale":{"type":"utc","nice":false,"padding":0,"domain":["2020-01-08T13:08:00Z","2020-11-25T05:02:00Z"]},"axis":{"orient":"bottom","offset":-96,"values":[{"year":2020,"month":2,"date":1,"utc":true},{"year":2020,"month":3,"date":1,"utc":true},{"year":2020,"month":4,"date":1,"utc":true},{"year":2020,"month":5,"date":1,"utc":true},{"year":2020,"month":6,"date":1,"utc":true},{"year":2020,"month":7,"date":1,"utc":true},{"year":2020,"month":8,"date":1,"utc":true},{"year":2020,"month":9,"date":1,"utc":true},{"year":2020,"month":10,"date":1,"utc":true},{"year":2020,"month":11,"date":1,"utc":true}],"format":"%b","tickSize":5,"labelPadding":10}}},
"resolve":{"scale":{"y":"independent"},"axis":{"y":"independent"}},
"layer":[
{"layer":[
{"data":{"name":"rsiBand"},"mark":{"type":"rect","color":"#10041c"},"encoding":{"x2":{"field":"d2"},"y":{"field":"top","type":"quantitative","scale":{"nice":false,"zero":false,"domain":[-21.07,243.98]},"axis":{"title":null,"orient":"right","offset":-130.4,"values":[20,40,60,80],"format":".2f","tickSize":6,"labelPadding":6}},"y2":{"field":"bottom"}}},
{"data":{"name":"rsiLevels"},"mark":{"type":"rule","color":"#c9c9d2","strokeDash":[5,5],"strokeWidth":1},"encoding":{"x2":{"field":"d2"},"y":{"field":"level","type":"quantitative"}}},
{"data":{"name":"rows"},"mark":{"type":"line","color":"#85189a","strokeWidth":1.3},"encoding":{"y":{"field":"r","type":"quantitative"}}}
]},
{"layer":[
{"data":{"name":"rows"},"mark":{"type":"rule","strokeWidth":1},"encoding":{"y":{"field":"l","type":"quantitative","scale":{"nice":false,"zero":false,"domain":[-0.13763,0.19304]},"axis":{"title":null,"orient":"right","offset":-130.4,"values":[0.02,0.04,0.06,0.08,0.1,0.12,0.14,0.16,0.18],"format":".8f","tickSize":6,"labelPadding":6}},"y2":{"field":"h"},"color":{"condition":{"test":"datum.c >= datum.o","value":"#4caf50"},"value":"#b71c1c"}}},
{"data":{"name":"rows"},"mark":{"type":"bar","size":3.2},"encoding":{"y":{"field":"o","type":"quantitative"},"y2":{"field":"c"},"color":{"condition":{"test":"datum.c >= datum.o","value":"#4caf50"},"value":"#b71c1c"}}},
{"data":{"name":"rows"},"mark":{"type":"point","shape":"cross","filled":true,"size":7,"opacity":1,"color":"#3d72ad"},"encoding":{"y":{"field":"s","type":"quantitative"}}},
{"data":{"name":"lastPrice"},"mark":{"type":"rule","color":"#b71c1c","strokeDash":[1,2],"strokeWidth":1},"encoding":{"x2":{"field":"d2"},"y":{"field":"p","type":"quantitative"}}},
{"data":{"name":"panels"},"mark":{"type":"rect"},"encoding":{"x2":{"field":"d2"},"y":{"field":"p","type":"quantitative"},"y2":{"field":"p2"},"color":{"field":"part","type":"nominal","legend":null,"scale":{"domain":["outer","cover","line","price","sar","rsi"],"range":["#131722","#000000","#2a2e39","#b71c1c","#3d72ad","#801a96"]}}}},
{"data":{"name":"frame"},"mark":{"type":"rect","fill":null,"stroke":"#2a2e39","strokeWidth":2},"encoding":{"x2":{"field":"d2"},"y":{"field":"p","type":"quantitative"},"y2":{"field":"p2"}}},
{"data":{"name":"lastTick"},"mark":{"type":"rule","color":"#ffffff","strokeWidth":1},"encoding":{"x2":{"field":"d2"},"y":{"field":"p","type":"quantitative"}}},
{"data":{"name":"usdBox"},"mark":{"type":"rect","fill":"#000000","stroke":"#2a2e39","strokeWidth":1,"cornerRadius":6},"encoding":{"x2":{"field":"d2"},"y":{"field":"p","type":"quantitative"},"y2":{"field":"p2"}}},
{"data":{"name":"headline"},"mark":{"type":"text","align":"left","baseline":"middle","fontSize":17.6,"fontWeight":"bold","color":"#b2b5be"},"encoding":{"y":{"field":"p","type":"quantitative"},"text":{"field":"label"}}},
{"data":{"name":"paneLabels"},"mark":{"type":"text","align":"left","baseline":"middle","fontSize":17.5,"color":"#a3a6af"},"encoding":{"y":{"field":"p","type":"quantitative"},"text":{"field":"label"}}},
{"data":{"name":"tagLabels"},"mark":{"type":"text","align":"left","baseline":"middle","fontSize":17,"fontWeight":"bold","color":"#ffffff"},"encoding":{"y":{"field":"p","type":"quantitative"},"text":{"field":"label"}}},
{"data":{"name":"softTags"},"mark":{"type":"text","align":"left","baseline":"middle","fontSize":17,"color":"#eeeeee"},"encoding":{"y":{"field":"p","type":"quantitative"},"text":{"field":"label"}}},
{"data":{"name":"usdLabel"},"mark":{"type":"text","align":"center","baseline":"middle","fontSize":16,"color":"#b2b5be"},"encoding":{"y":{"field":"p","type":"quantitative"},"text":{"field":"label"}}},
{"data":{"name":"brand"},"mark":{"type":"text","align":"left","baseline":"middle","fontSize":18.3,"color":"#d1d4dc"},"encoding":{"y":{"field":"p","type":"quantitative"},"text":{"field":"label"}}},
{"data":{"name":"logo"},"mark":{"type":"point","filled":true,"opacity":1,"color":"#2196f3","size":1521,"shape":"M-0.8 0.52C-1 0.52 -1.02 0.1 -0.72 0.02C-0.72 -0.2 -0.45 -0.3 -0.3 -0.2C-0.2 -0.5 0.25 -0.55 0.4 -0.2C0.5 -0.3 0.75 -0.2 0.72 0.02C1.02 0.1 1 0.52 0.8 0.52Z"},"encoding":{"y":{"field":"p","type":"quantitative"}}},
{"data":{"name":"logo"},"mark":{"type":"point","filled":false,"opacity":1,"color":"#131722","strokeWidth":2,"size":1521,"shape":"M-0.78 0.38L-0.3 -0.08L0.25 0.36L0.72 -0.06"},"encoding":{"y":{"field":"p","type":"quantitative"}}}
]}
]
}
